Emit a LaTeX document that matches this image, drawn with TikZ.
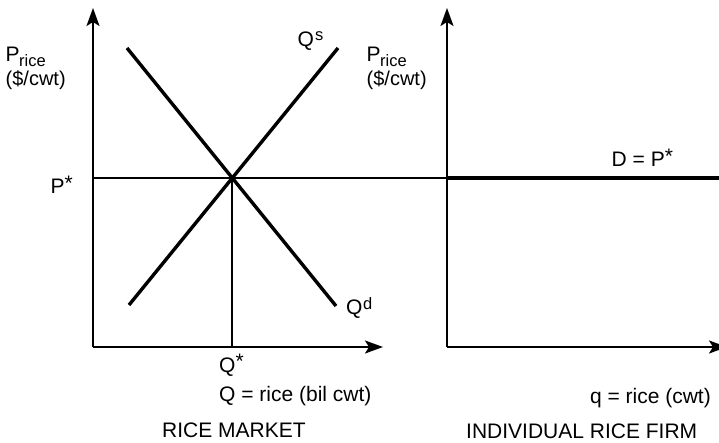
\documentclass[tikz,border=0pt]{standalone}
\usepackage{fontspec}
\setmainfont{Liberation Sans}
\usetikzlibrary{arrows.meta}
\newcommand{\mystar}{\raisebox{0.18em}{*}}
\begin{document}
\begin{tikzpicture}[x=1pt,y=-1pt,
  lbl/.style={inner sep=0pt,anchor=base west,font=\fontsize{21}{24}\selectfont},
  unit/.style={inner sep=0pt,anchor=base west,font=\fontsize{20}{23}\selectfont},
  sml/.style={inner sep=0pt,anchor=base west,font=\fontsize{16.5}{19}\selectfont},
  axis/.style={line width=2pt,-{Stealth[length=18pt,width=13pt,inset=4pt]}},
  curve/.style={line width=3.4pt},
  thin/.style={line width=1.5pt},
  thick/.style={line width=3.2pt}]
\useasboundingbox (0,0) rectangle (719,443);
% coordinates
\coordinate (O1) at (93,347);
\coordinate (Y1) at (93,8);
\coordinate (X1) at (383,347);
\coordinate (O2) at (447,347);
\coordinate (Y2) at (447,8);
\coordinate (X2) at (727,347);
\coordinate (Pl) at (93,178);
\coordinate (E) at (232,178);
\coordinate (F) at (447,178);
\coordinate (Pr) at (719,178);
\coordinate (Qb) at (232,347);
\coordinate (D1) at (127,48);
\coordinate (D2) at (336,306);
\coordinate (S1) at (129,305);
\coordinate (S2) at (338,48);
% lines
\draw[thin] (Pl) -- (F);
\draw[thick] (F) -- (Pr);
\draw[thin] (E) -- (Qb);
\draw[curve] (D1) -- (D2);
\draw[curve] (S1) -- (S2);
\draw[axis] (O1) -- (Y1);
\draw[axis] (O1) -- (X1);
\draw[axis] (O2) -- (Y2);
\draw[axis] (O2) -- (X2);
% labels
\node[lbl] (pl) at (5.5,62) {P};
\node[sml] (pls) at (19,67) {rice};
\node[unit] (plu) at (5.5,85.5) {(\$/cwt)};
\node[lbl] (pr) at (366.5,62) {P};
\node[sml] (prs) at (380,67) {rice};
\node[unit] (pru) at (366.5,85.5) {(\$/cwt)};
\node[lbl] (qs) at (297.5,47) {Q};
\node[sml] (qss) at (315,41) {s};
\node[lbl] (ps) at (50.5,194) {P\mystar};
\node[lbl] (qd) at (346,314) {Q};
\node[sml] (qdd) at (363,309) {d};
\node[lbl] (qst) at (219,372) {Q\mystar};
\node[lbl] (qax) at (219,401) {Q = rice (bil cwt)};
\node[lbl] (rm) at (162,437) {RICE MARKET};
\node[lbl,anchor=base east] (qf) at (711,403) {q = rice (cwt)};
\node[lbl] (irf) at (466,438) {INDIVIDUAL RICE FIRM};
\node[lbl] (dp) at (611.5,167) {D = P\mystar};
\end{tikzpicture}
\end{document}
